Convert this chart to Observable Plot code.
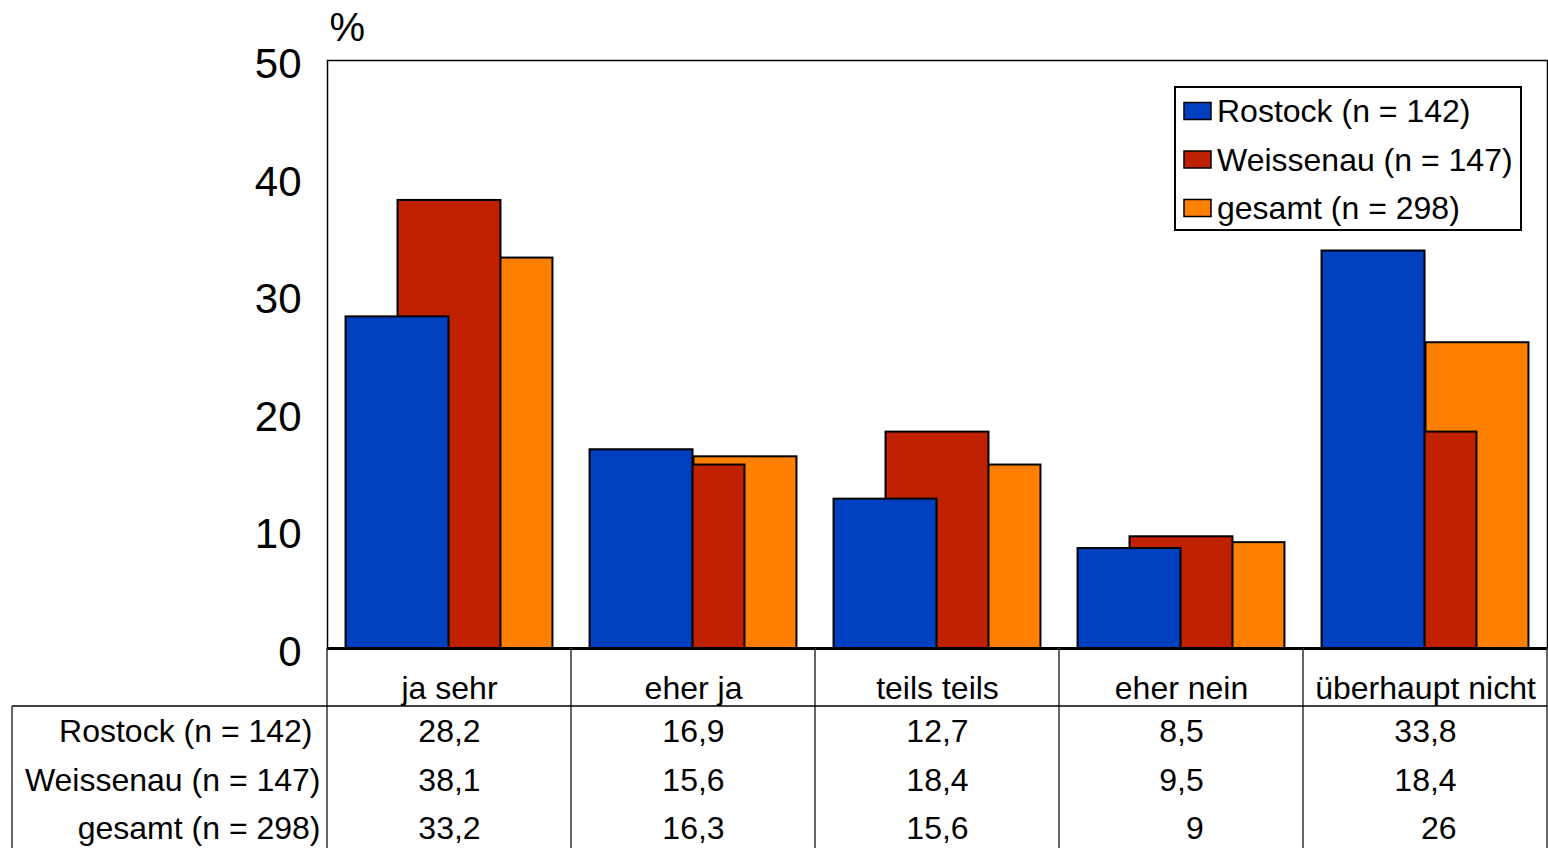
<!DOCTYPE html>
<html><head><meta charset="utf-8">
<script src="https://cdn.jsdelivr.net/npm/d3@7"></script>
<script src="https://cdn.jsdelivr.net/npm/@observablehq/plot@0.6"></script>
<style>
html,body{margin:0;padding:0;background:#fff;overflow:hidden;}
svg{display:block;font-family:"Liberation Sans",Arial,sans-serif;}
</style>
</head><body><div id="chart"></div>
<script>
// ---- data ----
const categories = ["ja sehr", "eher ja", "teils teils", "eher nein", "überhaupt nicht"];
const seriesNames = ["Rostock (n = 142)", "Weissenau (n = 147)", "gesamt (n = 298)"];
const rostock = [28.2, 16.9, 12.7, 8.5, 33.8];
const weissenau = [38.1, 15.6, 18.4, 9.5, 18.4];
const gesamt = [33.2, 16.3, 15.6, 9, 26];
const yTicks = [0, 10, 20, 30, 40, 50];
const colors = ["#0040C0", "#BF2000", "#FF8000"];

const seriesValues = [rostock, weissenau, gesamt];
const fmt = v => String(v).replace(".", ",");

// tidy rows; draw order: gesamt first, then Weissenau, Rostock on top
const rows = [];
[2, 1, 0].forEach(s => {
  categories.forEach((c, i) => rows.push({s, i, cat: c, series: seriesNames[s], value: seriesValues[s][i]}));
});

const W = 1548, H = 848;
const mL = 327, mR = 1, mT = 60, mB = 200;
const offset = 0.213, half = 0.211;
const FS = 32;

// estimate width of number strings (Liberation Sans metrics)
const estW = t => [...t].reduce((a, ch) => a + (ch === "," ? 0.278 : 0.556), 0) * FS;

const rowDy = [83, 132, 180];
const tableMarks = [];
categories.forEach((c, i) => {
  const colVals = seriesValues.map(v => fmt(v[i]));
  const halfW = Math.max(...colVals.map(estW)) / 2;
  colVals.forEach((t, r) => {
    tableMarks.push(Plot.text([t], {
      x: () => i + 0.5, y: () => 0, text: d => d,
      dy: rowDy[r], dx: halfW, textAnchor: "end", fontSize: FS, fill: "black"
    }));
  });
});
seriesNames.forEach((n, r) => {
  tableMarks.push(Plot.text([n], {
    x: () => 0, y: () => 0, text: d => d,
    dy: rowDy[r], dx: r === 0 ? -15 : -7, textAnchor: "end", fontSize: FS, fill: "black"
  }));
});

const plot = Plot.plot({
  width: W, height: H,
  marginLeft: mL, marginRight: mR, marginTop: mT, marginBottom: mB,
  style: {fontFamily: '"Liberation Sans", Arial, sans-serif', background: "white"},
  x: {type: "linear", domain: [0, categories.length], axis: null},
  y: {domain: [0, 50], axis: null},
  marks: [
    Plot.rectY(rows, {
      x1: d => d.i + 0.5 + (d.s - 1) * offset - half,
      x2: d => d.i + 0.5 + (d.s - 1) * offset + half,
      y1: 0, y2: "value",
      fill: d => colors[d.s], stroke: "black", strokeWidth: 2
    }),
    Plot.frame({stroke: "black", strokeWidth: 1.5}),
    Plot.ruleY([0], {stroke: "black", strokeWidth: 3}),
    Plot.axisY(yTicks, {tickSize: 0, tickPadding: 26, fontSize: 42, dy: 4, label: null, fill: "black"}),
    Plot.text(["%"], {frameAnchor: "top-left", dx: 2, dy: -32, lineAnchor: "middle", fontSize: 40, textAnchor: "start", fill: "black"}),
    Plot.text(categories, {
      x: (d, i) => i + 0.5, y: () => 0, text: d => d,
      dy: 40, fontSize: FS, fill: "black"
    }),
    ...tableMarks
  ]
});

document.getElementById("chart").appendChild(plot);

// ---- table lines + legend ----
const svg = d3.select(plot);
const xs = plot.scale("x"), ys = plot.scale("y");
const y0 = ys.apply(0);
const xEnd = xs.apply(categories.length);
const rowTop = y0 + 58;
const g = svg.append("g").attr("stroke", "#333").attr("stroke-width", 1.5);
for (let k = 0; k <= categories.length; k++) {
  const x = xs.apply(k);
  g.append("line").attr("x1", x).attr("x2", x).attr("y1", y0).attr("y2", H);
}
g.append("line").attr("x1", 12).attr("x2", xEnd).attr("y1", rowTop).attr("y2", rowTop).attr("stroke", "black");
g.append("line").attr("x1", 12).attr("x2", 12).attr("y1", rowTop).attr("y2", H);

// legend
const lx = 1175, ly = 87, lw = 346, lh = 143;
const lg = svg.append("g").attr("text-anchor", "start");
lg.append("rect").attr("x", lx).attr("y", ly).attr("width", lw).attr("height", lh)
  .attr("fill", "white").attr("stroke", "black").attr("stroke-width", 2);
seriesNames.forEach((n, s) => {
  const cy = ly + 24 + s * 48.5;
  lg.append("rect").attr("x", lx + 9).attr("y", cy - 8.5).attr("width", 27).attr("height", 17)
    .attr("fill", colors[s]).attr("stroke", "black").attr("stroke-width", 1.5);
  lg.append("text").attr("x", lx + 42).attr("y", cy).attr("dy", "0.35em")
    .attr("text-anchor", "start").attr("font-size", FS).attr("fill", "black").text(n);
});
</script>
</body></html>
